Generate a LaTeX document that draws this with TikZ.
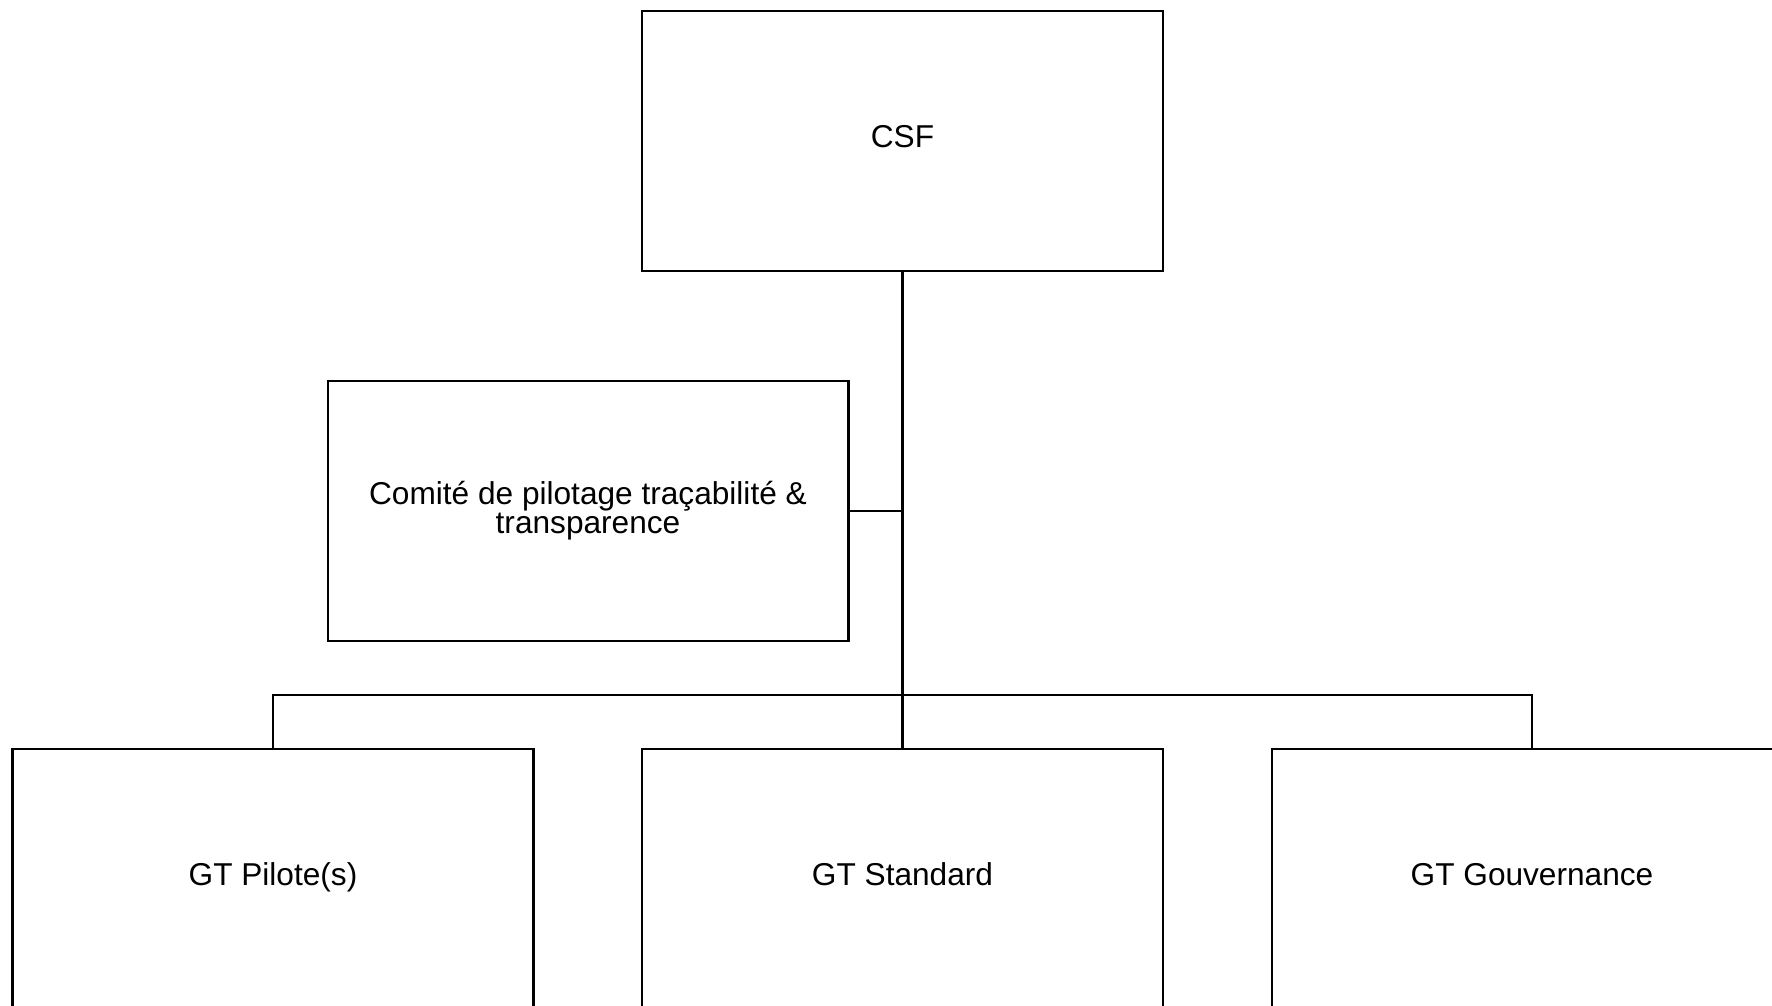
\documentclass[tikz,border=0pt]{standalone}
\usepackage{fontspec}
\setmainfont{Liberation Sans}

\begin{document}
\begin{tikzpicture}[x=0.02cm, y=-0.02cm, line width=1.2pt,
        box/.style={draw, minimum width=10.42cm, minimum height=5.2cm, inner sep=0pt, align=center, font=\fontsize{18}{16.5}\selectfont},
        onebox/.style={box, text height=12.6pt, text depth=5.4pt}]
        \clip (0, 0) rectangle (1772, 1006);
        \node[onebox] (csf) at (902.5, 141) {CSF};
        \node[box] (comite) at (588, 511) {Comité de pilotage traçabilité \&\\transparence};
        \node[onebox] (gtpil) at (273, 879) {GT Pilote(s)};
        \node[onebox] (gtstd) at (902.5, 879) {GT Standard};
        \node[onebox] (gtgouv) at (1532, 879) {GT Gouvernance};
        \coordinate (bus) at (902.5, 695);
        \draw (csf.south) -- (gtstd.north);
        \draw (comite.east) -- (comite.east -| csf.south);
        \draw (gtpil.north) |- (bus) -| (gtgouv.north);
    \end{tikzpicture}
\end{document}
